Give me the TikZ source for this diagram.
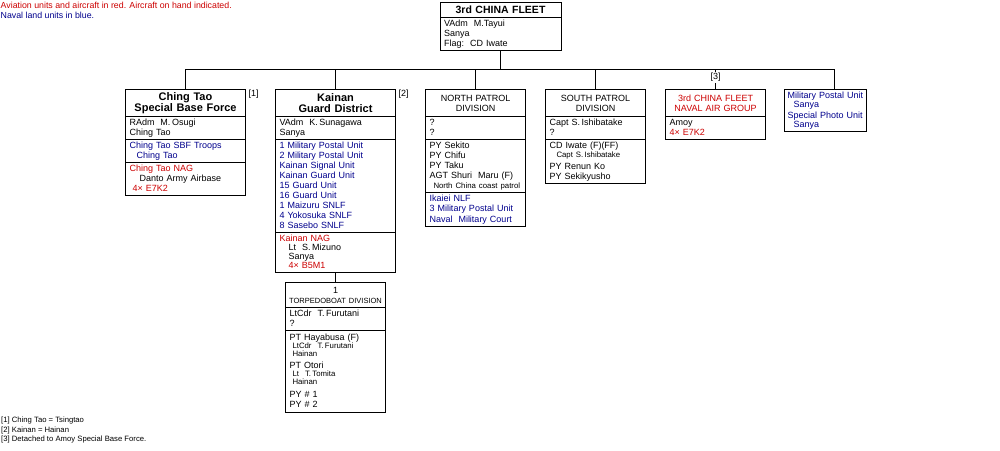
\documentclass[tikz,border=0pt]{standalone}
\usepackage{fontspec}
\setmainfont{Liberation Sans}
\usetikzlibrary{positioning}
\definecolor{avred}{RGB}{204,0,0}
\definecolor{navblue}{RGB}{0,0,140}
\newcommand\nrm{\fontsize{9}{10}\selectfont}
\newcommand\sml{\fontsize{7.8}{10}\selectfont}
\newcommand\hdf{\fontsize{11}{11.5}\selectfont\bfseries}
\newcommand\ind[1]{\hspace*{#1pt}}
\tikzset{
  sect/.style={draw, line width=1pt, outer sep=0pt, inner xsep=4pt, inner ysep=1.5pt, align=left, font=\nrm,
    execute at begin node={\rule{0pt}{7pt}}, execute at end node={\rule[-3pt]{0pt}{3pt}}},
  head/.style={draw, line width=1pt, outer sep=0pt, inner xsep=4pt, inner ysep=0pt, align=center, minimum height=27pt, font=\hdf},
  w120/.style={text width=112pt},
  w100/.style={text width=92pt},
  w82/.style={text width=76pt, inner xsep=3pt},
  link/.style={line width=1pt}
}
\begin{document}
\begin{tikzpicture}[x=1pt,y=1pt]
  \useasboundingbox (0,0) rectangle (1000,-450);
  \node[anchor=north west, inner sep=0pt, align=left, font=\fontsize{8.8}{10.5}\selectfont] (legend) at (0.5,-1.5)
    {\textcolor{avred}{Aviation units and aircraft in red. Aircraft on hand indicated.}\\\textcolor{navblue}{Naval land units in blue.}};
  \node[head, text width=113pt, minimum height=15.5pt, font=\fontsize{10.5}{11}\selectfont\bfseries, anchor=north] (fleet) at (500.5,-2) {3rd CHINA FLEET};
  \node[sect, text width=113pt, below=0pt of fleet] (fleetb) {VAdm~~M.Tayui\\Sanya\\Flag:~~CD Iwate};
  \node[head, w120, anchor=north west] (sbf) at (125.5,-89.5) {Ching Tao\\Special Base Force};
  \node[sect, w120, below=0pt of sbf] (sbf2) {RAdm~~M.\,Osugi\\Ching Tao};
  \node[sect, w120, below=0pt of sbf2, text=navblue] (sbf3) {Ching Tao SBF Troops\\\ind{7}Ching Tao};
  \node[sect, w120, below=0pt of sbf3] (sbf4) {\textcolor{avred}{Ching Tao NAG}\\\ind{10}Danto Army Airbase\\\ind{3}\textcolor{avred}{4× E7K2}};
  \node[head, w120, anchor=north west] (kgd) at (275.5,-89.5) {Kainan\\Guard District};
  \node[sect, w120, below=0pt of kgd] (kgd2) {VAdm~~K.\,Sunagawa\\Sanya};
  \node[sect, w120, below=0pt of kgd2, text=navblue] (kgd3) {1 Military Postal Unit\\2 Military Postal Unit\\Kainan Signal Unit\\Kainan Guard Unit\\15 Guard Unit\\16 Guard Unit\\1 Maizuru SNLF\\4 Yokosuka SNLF\\8 Sasebo SNLF};
  \node[sect, w120, below=0pt of kgd3] (kgd4) {\textcolor{avred}{Kainan NAG}\\[-1pt]\ind{9}Lt~~S.\,Mizuno\\[-1pt]\ind{9}Sanya\\[-1pt]\ind{9}\textcolor{avred}{4× B5M1}};
  \node[head, w100, font=\nrm, anchor=north west] (npd) at (425.5,-89.5) {NORTH PATROL\\DIVISION};
  \node[sect, w100, below=0pt of npd] (npd2) {?\\?};
  \node[sect, w100, below=0pt of npd2] (npd3) {PY Sekito\\PY Chifu\\PY Taku\\AGT Shuri~~Maru (F)\\\ind{4}{\sml North China coast patrol}};
  \node[sect, w100, below=0pt of npd3, text=navblue] (npd4) {Ikaiei NLF\\3 Military Postal Unit\\[1pt]Naval~~Military Court};
  \node[head, w100, font=\nrm, anchor=north west] (spd) at (545.5,-89.5) {SOUTH PATROL\\DIVISION};
  \node[sect, w100, below=0pt of spd] (spd2) {Capt~S.\,Ishibatake\\?};
  \node[sect, w100, below=0pt of spd2] (spd3) {CD Iwate (F)(FF)\\[-1pt]\ind{7}{\sml Capt~S.\,Ishibatake}\\[2pt]PY Renun Ko\\PY Sekikyusho};
  \node[head, w100, font=\nrm, text=avred, anchor=north west] (nag) at (665.5,-89.5) {3rd CHINA FLEET\\NAVAL AIR GROUP};
  \node[sect, w100, below=0pt of nag] (nag2) {Amoy\\\textcolor{avred}{4× E7K2}};
  \node[sect, w82, text=navblue, anchor=north west] (mpu) at (784.5,-89.5) {Military Postal Unit\\[-1pt]\ind{6}Sanya\\[1pt]Special Photo Unit\\[-1pt]\ind{6}Sanya};
  \node[head, text width=98pt, inner xsep=1pt, font=\nrm, minimum height=25pt, below=10pt of kgd4] (tbd) {1\\{\fontsize{7.5}{9}\selectfont TORPEDOBOAT DIVISION}};
  \node[sect, w100, below=0pt of tbd] (tbd2) {LtCdr~~T.\,Furutani\\?};
  \node[sect, w100, below=0pt of tbd2, inner ysep=2.5pt] (tbd3) {PT Hayabusa (F)\\[-2pt]\ind{3}{\sml LtCdr~~T.\,Furutani}\\[-2pt]\ind{3}{\sml Hainan}\\[2.5pt]PT Otori\\[-2pt]\ind{3}{\sml Lt~~T.\,Tomita}\\[-2pt]\ind{3}{\sml Hainan}\\[2.5pt]PY \# 1\\PY \# 2};
  \node[anchor=north west, inner sep=0pt, font=\nrm] (fn1) at ([xshift=3pt,yshift=-0.5pt]sbf.north east) {[1]};
  \node[anchor=north west, inner sep=0pt, font=\nrm] (fn2) at ([xshift=3pt,yshift=-0.5pt]kgd.north east) {[2]};
  \coordinate (bus) at (0,-69.5);
  \coordinate (mpudrop) at ([xshift=9pt]mpu.north);
  \draw[link] (fleetb.south) -- (fleetb.south |- bus);
  \draw[link] (sbf.north) |- (mpudrop |- bus) -- (mpudrop);
  \foreach \c in {kgd,npd,spd} \draw[link] (\c.north) -- (\c.north |- bus);
  \draw[link] (nag.north |- bus) -- node[pos=0.4, fill=white, inner sep=1pt, font=\nrm] (fn3) {[3]} (nag.north);
  \draw[link] (kgd4.south) -- (tbd.north);
  \node[anchor=north west, align=left, inner sep=0pt, font=\fontsize{7.7}{9.5}\selectfont] (notes) at (1,-417)
    {[1] Ching Tao = Tsingtao\\{}[2] Kainan = Hainan\\{}[3] Detached to Amoy Special Base Force.};
\end{tikzpicture}
\end{document}
